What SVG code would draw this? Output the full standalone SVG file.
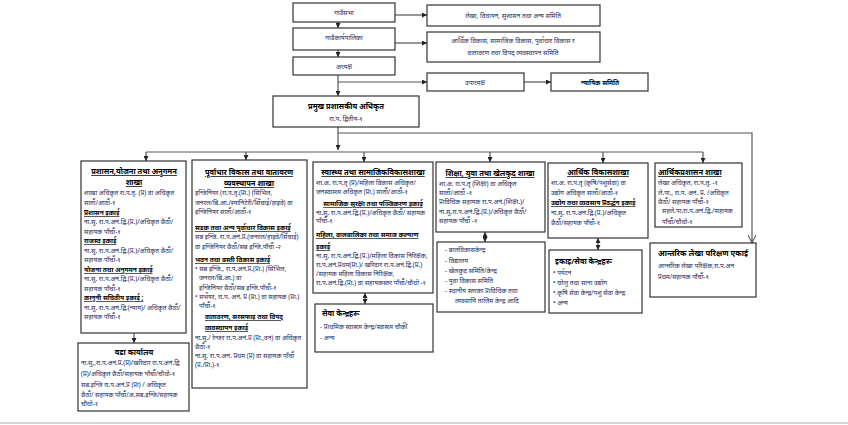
<svg xmlns="http://www.w3.org/2000/svg" width="848" height="425" viewBox="0 0 848 425">
<defs>
<style>
.box{fill:#fff;stroke:#333;stroke-width:1.2}
.c{stroke:#555;stroke-width:1.2;fill:none}
.t{font-family:"Noto Sans","DejaVu Sans",sans-serif;font-size:6.5px;fill:#1c2b5e}
.m{text-anchor:middle}
.h{font-weight:bold;fill:#000;text-decoration:underline}
.k{font-weight:bold;fill:#000}
</style>
<marker id="a" viewBox="0 0 10 10" refX="10" refY="5" markerWidth="5" markerHeight="5" orient="auto-start-reverse" markerUnits="userSpaceOnUse"><path d="M0,0 L10,5 L0,10 z" fill="#222"/></marker>
<marker id="v" viewBox="0 0 10 10" refX="10" refY="5" markerWidth="8" markerHeight="8" orient="auto" markerUnits="userSpaceOnUse"><path d="M0,0 L10,5 L0,10" fill="none" stroke="#333" stroke-width="1.2"/></marker>
</defs>
<rect width="848" height="425" fill="#fff"/>
<g id="connectors">
<line class="c" x1="338" y1="22" x2="338" y2="28" marker-end="url(#a)"/>
<line class="c" x1="338" y1="50" x2="338" y2="57" marker-end="url(#a)"/>
<line class="c" x1="338" y1="75" x2="338" y2="96" marker-end="url(#a)"/>
<line class="c" x1="395" y1="15" x2="427" y2="15" marker-end="url(#a)"/>
<line class="c" x1="395" y1="43" x2="427" y2="43" marker-end="url(#a)"/>
<line class="c" x1="338" y1="82" x2="427" y2="82" marker-end="url(#a)"/>
<line class="c" x1="524" y1="82" x2="551" y2="82" marker-end="url(#a)"/>
<line class="c" x1="338" y1="127" x2="338" y2="150" marker-end="url(#a)"/>
<polyline class="c" points="338,133 752,133 752,243" marker-end="url(#v)"/>
<line class="c" x1="146" y1="152" x2="703" y2="152"/>
<line class="c" x1="146" y1="152" x2="146" y2="161" marker-end="url(#a)"/>
<line class="c" x1="246" y1="152" x2="246" y2="160" marker-end="url(#a)"/>
<line class="c" x1="364" y1="152" x2="364" y2="162" marker-end="url(#a)"/>
<line class="c" x1="490" y1="152" x2="490" y2="162" marker-end="url(#a)"/>
<line class="c" x1="603" y1="152" x2="603" y2="163" marker-end="url(#a)"/>
<line class="c" x1="703" y1="152" x2="703" y2="163" marker-end="url(#a)"/>
<line class="c" x1="134" y1="333" x2="134" y2="343" marker-end="url(#a)"/>
<line class="c" x1="365" y1="293" x2="365" y2="304" marker-start="url(#a)" marker-end="url(#a)"/>
<line class="c" x1="485" y1="232" x2="485" y2="242" marker-start="url(#a)" marker-end="url(#a)"/>
<line class="c" x1="598" y1="238" x2="598" y2="250" marker-start="url(#a)" marker-end="url(#a)"/>
<line x1="0" y1="423" x2="848" y2="423" stroke="#aaa" stroke-width="1"/>
</g>
<g id="gaunsabha"><rect class="box" x="293" y="3" width="102" height="19"/><text class="t m" x="344" y="15">गाउँसभा</text></g>
<g id="samiti1"><rect class="box" x="427" y="5" width="173" height="21"/><text class="t m" x="513" y="18">लेखा, विधायन, सुशासन तथा अन्य समिति</text></g>
<g id="karyapalika"><rect class="box" x="293" y="28" width="102" height="22"/><text class="t m" x="344" y="40">गाउँकार्यपालिका</text></g>
<g id="samiti2"><rect class="box" x="427" y="32" width="173" height="30"/><text class="t m" x="513" y="43">आर्थिक विकास, सामाजिक विकास, पुर्वाधार विकास र</text><text class="t m" x="513" y="55">वातावरण तथा विपद् व्यवस्थापन समिति</text></g>
<g id="adhyaksha"><rect class="box" x="293" y="57" width="102" height="18"/><text class="t m" x="344" y="69">अध्यक्ष</text></g>
<g id="upadhyaksha"><rect class="box" x="427" y="73" width="97" height="18"/><text class="t m" x="475" y="85">उपाध्यक्ष</text></g>
<g id="nyayik"><rect class="box" x="551" y="73" width="97" height="18"/><text class="t m k" x="600" y="85">न्यायिक समिति</text></g>
<g id="cao"><rect class="box" x="273" y="96" width="146" height="31"/><text class="t m k" x="346" y="109" style="font-size:7.5px">प्रमुख प्रशासकीय अधिकृत</text><text class="t m" x="346" y="121">रा.प. द्वितीय-१</text></g>
<g id="prashasan"><rect class="box" x="81" y="161" width="105" height="172"/>
<text class="t m h" x="134" y="174" style="font-size:7.5px">प्रशासन,योजना तथा अनुगमन</text>
<text class="t m h" x="134" y="185" style="font-size:7.5px">शाखा</text>
<text class="t" x="84" y="195">शाखा अधिकृत रा.प.तृ. (प्र) वा अधिकृत</text>
<text class="t" x="84" y="205">सातौं/आठौं-१</text>
<text class="t h" x="84" y="215">प्रशासन इकाई</text>
<text class="t" x="84" y="224">ना.सु. रा.प.अनं.द्वि.(प्र.)/अधिकृत छैठौं/</text>
<text class="t" x="84" y="234">सहायक पाँचौं-१</text>
<text class="t h" x="84" y="243">राजस्व इकाई</text>
<text class="t" x="84" y="253">ना.सु. रा.प.अनं.द्वि.(प्र.)/अधिकृत छैठौं/</text>
<text class="t" x="84" y="262">सहायक पाँचौं-१</text>
<text class="t h" x="84" y="272">योजना तथा अनुगमन इकाई</text>
<text class="t" x="84" y="281">ना.सु. रा.प.अनं.द्वि.(प्र.)/अधिकृत छैठौं/</text>
<text class="t" x="84" y="291">सहायक पाँचौं-१</text>
<text class="t h" x="84" y="300">कानुनी सचिवीय इकाई ;</text>
<text class="t" x="84" y="310">ना.सु. रा.प.अनं.द्वि.(न्याय)/ अधिकृत छैठौं/</text>
<text class="t" x="84" y="319">सहायक पाँचौं-१</text>
</g>
<g id="wada"><rect class="box" x="78" y="343" width="111" height="68"/>
<text class="t m k" x="134" y="355" style="font-size:7.5px">वडा कार्यालय</text>
<text class="t" x="81" y="365">ना.सु.,रा.प.अनं.प्र.(प्र)/खरिदार रा.प.अनं.द्वि</text>
<text class="t" x="81" y="376">(प्र)/अधिकृत छैठौं/सहायक पाँचौं/चौथो-१</text>
<text class="t" x="81" y="387">सब.इन्जि रा.प.अनं.प्र (प्रा) / अधिकृत</text>
<text class="t" x="81" y="397">छैठौं/ सहायक पाँचौं/अ.सब.इन्जि/सहायक</text>
<text class="t" x="81" y="406">चौथो-१</text>
</g>
<g id="purwadhar"><rect class="box" x="192" y="160" width="115" height="228"/>
<text class="t m h" x="249" y="175" style="font-size:7.5px">पूर्वाधार विकास तथा वातावरण</text>
<text class="t m h" x="249" y="186" style="font-size:7.5px">व्यवस्थापन शाखा</text>
<text class="t" x="195" y="195">इन्जिनियर (रा.प.तृ.(प्रा.) (सिभिल,</text>
<text class="t" x="195" y="205">जनरल/बि.आ./स्यानिटेरी/सिँचाई/हाइवे) वा</text>
<text class="t" x="195" y="214">इन्जिनियर सातौं/आठौं-१</text>
<text class="t h" x="195" y="230">सडक तथा अन्य पूर्वाधार विकास इकाई</text>
<text class="t" x="195" y="239">सब इन्जि. रा.प.अनं.प्र.(जनरल/हाइवे/सिँचाई)</text>
<text class="t" x="195" y="249">वा इन्जिनियर छैठौं/सब इन्जि.पाँचौं -२</text>
<text class="t h" x="195" y="262">भवन तथा बस्ती विकास इकाई</text>
<text class="t" x="195" y="271">• सब इन्जि., रा.प.अनं.प्र.(प्रा.) (सिभिल,</text>
<text class="t" x="199" y="280">जनरल/बि.आ.) वा</text>
<text class="t" x="199" y="290">इन्जिनियर छैठौं/सब इन्जि.पाँचौं-१</text>
<text class="t" x="195" y="299">• सर्भेयर, रा.प. अनं. प्र (प्रा.) वा सहायक (प्रा.)</text>
<text class="t" x="199" y="308">पाँचौं-१</text>
<text class="t h" x="205" y="319">वातावरण, सरसफाइ तथा विपद्</text>
<text class="t h" x="205" y="330">व्यवस्थापन इकाई</text>
<text class="t" x="195" y="340">ना.सु./ रेन्जर रा.प.अनं.प्र (प्रा.,वन) वा अधिकृत</text>
<text class="t" x="195" y="349">छैठौं-१</text>
<text class="t" x="195" y="358">ना.सु. रा.प.अनं. प्रथम (प्र) वा सहायक पाँचौं</text>
<text class="t" x="195" y="367">(प्र./प्रा.)-१</text>
</g>
<g id="swasthya"><rect class="box" x="313" y="162" width="120" height="131"/>
<text class="t m h" x="373" y="175" style="font-size:7.5px">स्वास्थ्य तथा सामाजिकविकासशाखा</text>
<text class="t" x="316" y="185">शा.अ. रा.प.तृ (प्र)/महिला विकास अधिकृत/</text>
<text class="t" x="316" y="194">जनस्वास्थ्य अधिकृत (प्रा.) सातौं/आठौं-१</text>
<text class="t m h" x="373" y="206">सामाजिक सुरक्षा तथा पञ्जिकरण इकाई</text>
<text class="t" x="316" y="215">ना.सु. रा.प.अनं.द्वि.(प्र.)/अधिकृत छैठौं/ सहायक</text>
<text class="t" x="316" y="223">पाँचौं-१</text>
<text class="t h" x="316" y="237">महिला, बालबालिका तथा समाज कल्याण</text>
<text class="t h" x="316" y="249">इकाई</text>
<text class="t" x="316" y="258">ना.सु. रा.प.अनं.द्वि.(प्र.)/महिला विकास निरिक्षक,</text>
<text class="t" x="316" y="267">रा.प.अनं.प्रथम(प्रा.)/ खरिदार रा.प.अनं.द्वि.(प्र.)</text>
<text class="t" x="316" y="276">/सहायक महिला विकास निरिक्षक,</text>
<text class="t" x="316" y="285">रा.प.अनं.द्वि.(प्रा.) वा सहायकस्तर पाँचौं/चौथो -१</text>
</g>
<g id="sewa"><rect class="box" x="315" y="304" width="118" height="48"/>
<text class="t k" x="322" y="316" style="font-size:7.5px">सेवा केन्द्रहरू</text>
<text class="t" x="320" y="329">-   प्राथमिक स्वास्थ्य केन्द्र/स्वास्थ्य चौकी</text>
<text class="t" x="320" y="340">-   अन्य</text>
</g>
<g id="shiksha"><rect class="box" x="436" y="162" width="109" height="70"/>
<text class="t m h" x="490" y="176" style="font-size:7.5px">शिक्षा, युवा तथा खेलकुद शाखा</text>
<text class="t" x="439" y="186">शा.अ. रा.प.तृ (शिक्षा) वा अधिकृत</text>
<text class="t" x="439" y="195">सातौं/आठौं -१</text>
<text class="t" x="439" y="204">प्राविधिक सहायक रा.प.अनं.(शिक्षा.)/</text>
<text class="t" x="439" y="214">ना.सु.रा.प.अनं.द्वि.(प्र.)/अधिकृत छैठौं/</text>
<text class="t" x="439" y="223">सहायक पाँचौं -१</text>
</g>
<g id="shiksha-ekai"><rect class="box" x="437" y="242" width="108" height="70"/>
<text class="t" x="445" y="252">-   बालविकासकेन्द्र</text>
<text class="t" x="445" y="263">-   विद्यालय</text>
<text class="t" x="445" y="273">-   खेलकुद समिति/केन्द्र</text>
<text class="t" x="445" y="283">-   युवा विकास समिति</text>
<text class="t" x="445" y="293">-   स्थानीय स्तरका प्राविधिक तथा</text>
<text class="t" x="455" y="303">व्यवसायि तालिम केन्द्र आदि</text>
</g>
<g id="arthik"><rect class="box" x="548" y="163" width="100" height="75"/>
<text class="t m h" x="598" y="175" style="font-size:7.5px">आर्थिक विकासशाखा</text>
<text class="t" x="551" y="185">शा.अ. रा.प.तृ (कृषि/पशुसेवा) वा</text>
<text class="t" x="551" y="195">उद्योग अधिकृत सातौं/आठौं-१</text>
<text class="t h" x="551" y="205">उद्योग तथा व्यवसाय प्रवर्द्धन इकाई</text>
<text class="t" x="551" y="215">ना.सु. रा.प.अनं.द्वि.(प्र.)/अधिकृत</text>
<text class="t" x="551" y="225">छैठौं/सहायक पाँचौं-१</text>
</g>
<g id="arthik-ekai"><rect class="box" x="549" y="250" width="93" height="63"/>
<text class="t k" x="555" y="264" style="font-size:7.5px">इकाइ/सेवा केन्द्रहरू</text>
<text class="t" x="553" y="275">•  पर्यटन</text>
<text class="t" x="553" y="285">•  घरेलु तथा साना उद्योग</text>
<text class="t" x="553" y="295">•  कृषि सेवा केन्द्र/पशु सेवा केन्द्र</text>
<text class="t" x="553" y="305">•  अन्य</text>
</g>
<g id="arthik-prashasan"><rect class="box" x="655" y="163" width="87" height="64"/>
<text class="t h" x="658" y="175" style="font-size:7.5px">आर्थिकप्रशासन शाखा</text>
<text class="t" x="658" y="185">लेखा अधिकृत, रा.प.तृ. -१</text>
<text class="t" x="658" y="195">ले.पा., रा.प. अनं. प्र. /अधिकृत</text>
<text class="t" x="658" y="204">छैठौं/ सहायक पाँचौं-१</text>
<text class="t" x="662" y="213">सहले.पा.रा.प.अनं.द्वि./सहायक</text>
<text class="t" x="662" y="224">पाँचौं/चौथो-१</text>
</g>
<g id="lekha-parikshan"><rect class="box" x="650" y="243" width="106" height="54"/>
<text class="t k" x="658" y="256" style="font-size:7.8px" textLength="90" lengthAdjust="spacingAndGlyphs">आन्तरिक लेखा परिक्षण एकाई</text>
<text class="t" x="658" y="268">आन्तरिक लेखा परिक्षक,रा.प.अन</text>
<text class="t" x="658" y="279">प्रथम/सहायक पाँचौं-१</text>
</g>
</svg>
